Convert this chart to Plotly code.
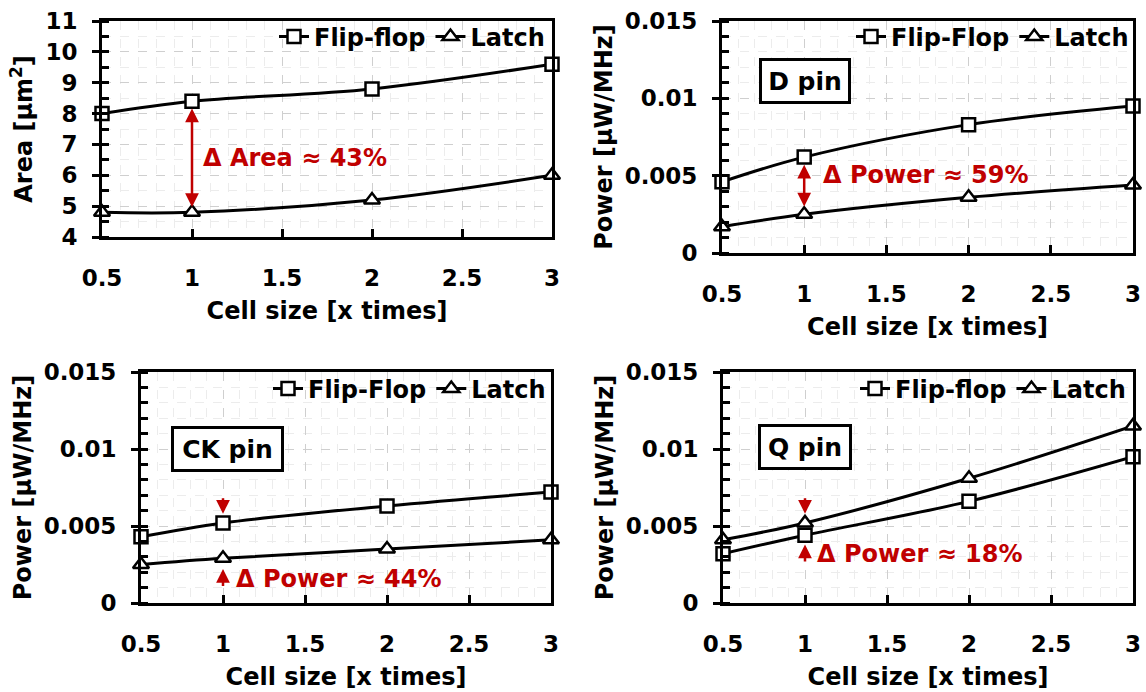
import plotly.graph_objects as go

# ---- data -------------------------------------------------------------
cell_size = [0.5, 1, 2, 3]

area_ff = [8.0, 8.4, 8.8, 9.6]
area_latch = [4.8, 4.8, 5.2, 6.0]

d_ff = [0.0046, 0.0062, 0.0083, 0.0095]
d_latch = [0.0017, 0.0025, 0.0036, 0.0044]

ck_ff = [0.0043, 0.0052, 0.0063, 0.0072]
ck_latch = [0.0025, 0.0029, 0.0035, 0.0041]

q_ff = [0.0032, 0.0044, 0.0066, 0.0095]
q_latch = [0.0041, 0.0052, 0.0081, 0.0115]

ff_names = ["Flip-flop", "Flip-Flop", "Flip-Flop", "Flip-flop"]
pin_labels = [None, "D pin", "CK pin", "Q pin"]
delta_texts = ["Δ Area ≈ 43%", "Δ Power ≈ 59%", "Δ Power ≈ 44%", "Δ Power ≈ 18%"]
x_title = "Cell size [x times]"
y_titles = ["Area [μm<sup>2</sup>]", "Power [μW/MHz]", "Power [μW/MHz]", "Power [μW/MHz]"]

# ---- styling ----------------------------------------------------------
W, H = 1146, 692
FONT = "DejaVu Sans"
RED = "#C00000"
GRID_MAJOR = "#cfcfcf"
GRID_MINOR = "#ececec"


def dom_x(left, right):
    return [left / W, right / W]


def dom_y(top, bottom):
    return [1 - bottom / H, 1 - top / H]


# panel frames in pixels: (left, right, top, bottom)
frames = [
    (102, 552, 21, 237),
    (722, 1133, 21, 253),
    (141, 551, 372, 603),
    (723, 1133, 372, 603),
]
y_ranges = [[4, 11], [0, 0.015], [0, 0.015], [0, 0.015]]
y_dticks = [1, 0.005, 0.005, 0.005]
y_minor = [0.5, 0.001, 0.001, 0.001]
series = [
    (area_ff, area_latch),
    (d_ff, d_latch),
    (ck_ff, ck_latch),
    (q_ff, q_latch),
]
legend_pos = [(550, 37), (1134, 37), (551, 389), (1131, 389)]

fig = go.Figure()
layout = dict(
    width=W, height=H, autosize=False,
    margin=dict(l=0, r=0, t=0, b=0),
    paper_bgcolor="white", plot_bgcolor="white",
    font=dict(family=FONT, size=24, color="black", weight="bold"),
    annotations=[],
)

for i, ((left, right, top, bottom), (ff, la)) in enumerate(zip(frames, series)):
    n = i + 1
    sfx = "" if n == 1 else str(n)
    xa, ya = "x" + sfx, "y" + sfx
    leg = "legend" if n == 1 else "legend" + str(n)

    for vals, name, sym, size in ((ff, ff_names[i], "square", 13),
                                   (la, "Latch", "triangle-up", 14)):
        fig.add_trace(go.Scatter(
            x=cell_size, y=vals, name=name, mode="lines+markers",
            xaxis=xa, yaxis=ya, legend=leg, cliponaxis=False,
            line=dict(color="black", width=3, shape="spline", smoothing=1),
            marker=dict(symbol=sym, size=size, color="white",
                        line=dict(color="black", width=2.5)),
        ))
    layout["xaxis" + sfx] = dict(
        domain=dom_x(left, right), anchor=ya, range=[0.5, 3],
        automargin=False,
        dtick=0.5, tick0=0.5, ticks="inside", ticklen=8, tickwidth=3,
        tickcolor="black", showline=True, linewidth=3, linecolor="black",
        mirror=True, zeroline=False,
        showgrid=True, gridcolor=GRID_MAJOR, griddash="dash", gridwidth=1,
        minor=dict(dtick=0.1, showgrid=True, gridcolor=GRID_MINOR, gridwidth=1),
        tickfont=dict(size=23), ticklabelstandoff=18,
        title=dict(text=x_title, font=dict(size=24), standoff=13),
    )
    layout["yaxis" + sfx] = dict(
        domain=dom_y(top, bottom), anchor=xa, range=y_ranges[i],
        automargin=False,
        dtick=y_dticks[i], tick0=0, ticks="outside", ticklen=7, tickwidth=3,
        tickcolor="black", showline=True, linewidth=3, linecolor="black",
        mirror=True, zeroline=False,
        showgrid=True, gridcolor=GRID_MAJOR, griddash="dash", gridwidth=1,
        minor=dict(dtick=y_minor[i], ticks="inside", ticklen=7, tickwidth=3,
                   tickcolor="black", showgrid=True, gridcolor=GRID_MINOR,
                   gridwidth=1),
        tickfont=dict(size=23), ticklabelstandoff=10,
        title=dict(text=y_titles[i], font=dict(size=24), standoff=6),
    )
    # inner half of the major y ticks
    layout["yaxis" + str(n + 4)] = dict(
        overlaying=ya, anchor=xa, side="left", range=y_ranges[i],
        automargin=False,
        dtick=y_dticks[i], tick0=0, ticks="inside", ticklen=7, tickwidth=3,
        tickcolor="black", showticklabels=False, showgrid=False,
        showline=False, zeroline=False,
    )
    lx, ly = legend_pos[i]
    layout[leg] = dict(
        orientation="h", x=lx / W, xanchor="right", y=1 - ly / H,
        yanchor="middle", bgcolor="rgba(0,0,0,0)", itemwidth=30,
        font=dict(size=24, family=FONT, weight="bold"), tracegroupgap=0,
    )

    if pin_labels[i]:
        layout["annotations"].append(dict(
            text=pin_labels[i], xref=xa, yref=ya,
            x=[0, 1.007, 1.03, 0.997][i], y=[0, 0.0111, 0.0100, 0.0101][i],
            showarrow=False, font=dict(size=25, family=FONT, weight="bold"),
            bordercolor="black", borderwidth=3, borderpad=0,
            bgcolor="white", width=[0, 86, 107, 88][i], height=40,
        ))

# ---- red delta annotations ---------------------------------------------
ann = layout["annotations"]
x1 = cell_size[1]


def arrow(xa, ya, head, tail, both=False):
    ann.append(dict(
        xref=xa, yref=ya, axref=xa, ayref=ya, x=x1, y=head, ax=x1, ay=tail,
        text="", showarrow=True, arrowcolor=RED, arrowwidth=2.5,
        arrowhead=2, arrowsize=1.1, startarrowhead=2, startarrowsize=1.1,
        arrowside="end+start" if both else "end", standoff=0, startstandoff=0,
    ))


def label(xa, ya, x, y, text):
    ann.append(dict(
        xref=xa, yref=ya, x=x, y=y, text=text, showarrow=False,
        xanchor="left", yanchor="middle",
        font=dict(size=24, color=RED, family=FONT, weight="bold"),
    ))


# area: double arrow between the two markers at 1x
arrow("x", "y", area_latch[1] + 0.17, area_ff[1] - 0.19, both=True)
label("x", "y", 1.05, 6.56, delta_texts[0])

# D pin
arrow("x2", "y2", d_latch[1] + 0.0005, d_ff[1] - 0.0004, both=True)
label("x2", "y2", 1.10, 0.00506, delta_texts[1])

# CK pin: arrows pointing at both markers
arrow("x3", "y3", ck_ff[1] + 0.0006, ck_ff[1] + 0.0017)
arrow("x3", "y3", ck_latch[1] - 0.0007, ck_latch[1] - 0.0019)
label("x3", "y3", 1.067, 0.00156, delta_texts[2])

# Q pin
arrow("x4", "y4", q_latch[1] + 0.0006, q_latch[1] + 0.0017)
arrow("x4", "y4", q_ff[1] - 0.0006, q_ff[1] - 0.0018)
label("x4", "y4", 1.061, 0.00318, delta_texts[3])

fig.update_layout(**layout)
fig.write_html("out.html")
